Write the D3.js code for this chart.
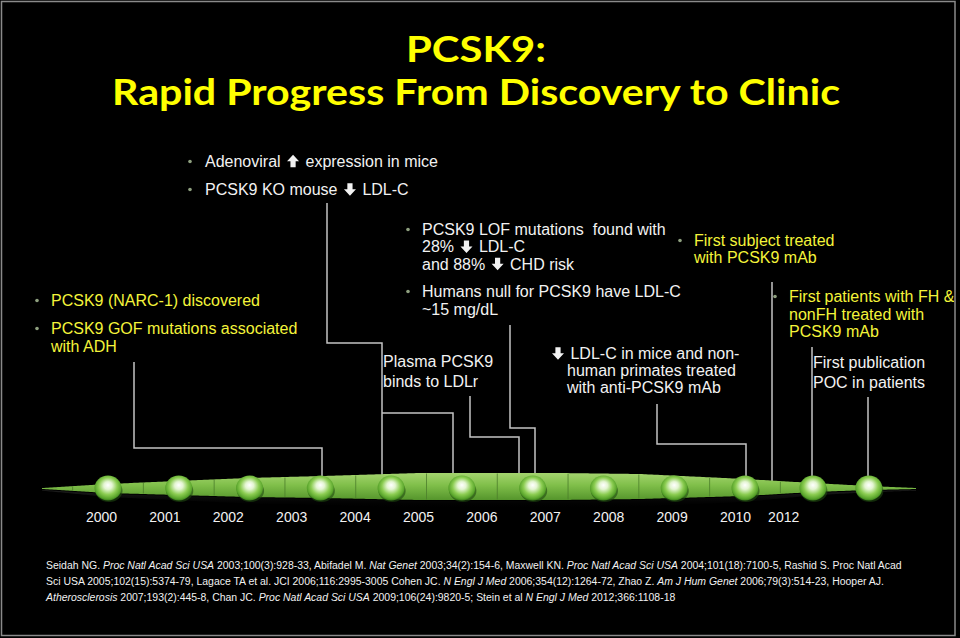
<!DOCTYPE html>
<html><head><meta charset="utf-8">
<script src="https://cdn.jsdelivr.net/npm/d3@7"></script>
<style>html,body{margin:0;padding:0;background:#000;} svg{display:block}</style>
</head><body>
<svg id="chart" width="960" height="638"></svg>
<script>
// ---------- data ----------
const titleLines = ["PCSK9:", "Rapid Progress From Discovery to Clinic"];
const yearLabels = ["2000","2001","2002","2003","2004","2005","2006","2007","2008","2009","2010","2012"];
const yearSlots  = [0,1,2,3,4,5,6,7,8,9,10,10.76];
const markerSlots = [0,1,2,3,4,5,6,7,8,9,9.96,10.75];
const dividerSlots = [-0.5,0.5,1.5,2.5,3.5,4.5,5.5,6.5,7.5,8.5,9.5];

const noteText = {
  adenoviral:    ["Adenoviral ⬆ expression in mice"],
  koMouse:       ["PCSK9 KO mouse ⬇ LDL-C"],
  narc:          ["PCSK9 (NARC-1) discovered"],
  gof:           ["PCSK9 GOF mutations associated", "with ADH"],
  lof:           ["PCSK9 LOF mutations  found with", "28% ⬇ LDL-C", "and 88% ⬇ CHD risk"],
  humans:        ["Humans null for PCSK9 have LDL-C", "~15 mg/dL"],
  plasma:        ["Plasma PCSK9", "binds to LDLr"],
  mice:          ["⬇ LDL-C in mice and non-", "human primates treated", "with anti-PCSK9 mAb"],
  firstSubject:  ["First subject treated", "with PCSK9 mAb"],
  firstPatients: ["First patients with FH &", "nonFH treated with", "PCSK9 mAb"],
  publication:   ["First publication", "POC in patients"]
};

const references = [
  [["Seidah NG. ",0],["Proc Natl Acad Sci USA",1],[" 2003;100(3):928-33, Abifadel M. ",0],["Nat Genet",1],[" 2003;34(2):154-6, Maxwell KN. ",0],["Proc Natl Acad Sci USA",1],[" 2004;101(18):7100-5, Rashid S. Proc Natl Acad",0]],
  [["Sci USA 2005;102(15):5374-79, Lagace TA et al. JCI 2006;116:2995-3005 Cohen JC. ",0],["N Engl J Med",1],[" 2006;354(12):1264-72, Zhao Z. ",0],["Am J Hum Genet",1],[" 2006;79(3):514-23, Hooper AJ.",0]],
  [["Atherosclerosis",1],[" 2007;193(2):445-8, Chan JC. ",0],["Proc Natl Acad Sci USA",1],[" 2009;106(24):9820-5; Stein et al ",0],["N Engl J Med",1],[" 2012;366:1108-18",0]]
];

// ---------- layout ----------
const W = 960, H = 638;
const WHITE = "#f2f2f2", YELLOW = "#f4f43a", BULLET = "#8fa07f", LINE = "#c4c4c4";
const svg = d3.select("#chart");
const defs = svg.append("defs");

svg.append("rect").attr("width", W).attr("height", H).attr("fill", "#000");
defs.append("clipPath").attr("id", "frame").append("rect")
  .attr("x", 2).attr("y", 2).attr("width", 952).attr("height", 633);
const g = svg.append("g").attr("clip-path", "url(#frame)");

// gradients
const barGrad = defs.append("linearGradient").attr("id", "barGrad")
  .attr("x1", 0).attr("y1", 0).attr("x2", 0).attr("y2", 1);
[["0%", "#a4d46e"], ["45%", "#80bf4a"], ["100%", "#55952c"]].forEach(([o, c]) =>
  barGrad.append("stop").attr("offset", o).attr("stop-color", c));
const ballGrad = defs.append("radialGradient").attr("id", "ballGrad")
  .attr("cx", "50%").attr("cy", "45%").attr("r", "55%").attr("fx", "50%").attr("fy", "38%");
[["0%", "#ffffff"], ["28%", "#e4f5d2"], ["62%", "#8ccd52"], ["88%", "#5aa52c"], ["100%", "#3a7d1a"]].forEach(([o, c]) =>
  ballGrad.append("stop").attr("offset", o).attr("stop-color", c));
const reflGrad = defs.append("linearGradient").attr("id", "reflGrad")
  .attr("x1", 0).attr("y1", 0).attr("x2", 0).attr("y2", 1);
[["0%", "#666", 0.3], ["100%", "#000", 0]].forEach(([o, c, op]) =>
  reflGrad.append("stop").attr("offset", o).attr("stop-color", c).attr("stop-opacity", op));

// title
const titleSizes = [{y: 62, len: 140}, {y: 105, len: 728}];
g.selectAll("text.title").data(titleLines).join("text")
  .attr("class", "title")
  .attr("x", 476).attr("y", (d, i) => titleSizes[i].y)
  .attr("text-anchor", "middle")
  .attr("textLength", (d, i) => titleSizes[i].len)
  .attr("lengthAdjust", "spacingAndGlyphs")
  .attr("fill", "#ffff00")
  .style("font-family", "'Comic Sans MS', 'Lato', 'Open Sans', sans-serif")
  .style("font-weight", "bold")
  .style("font-size", "36px")
  .text(d => d);

// scales
const markerX = d3.scaleLinear().domain([0, 9]).range([108, 745]);
const yearX = d3.scaleLinear().domain([0, 10]).range([101, 735]);
const barY = 488;

// connectors
const connectors = [
  [[134,362],[134,448],[322,448],[322,476]],
  [[327,203],[327,343],[382,343],[382,476]],
  [[382,413],[453,413],[453,476]],
  [[470,396],[470,437],[519,437],[519,478]],
  [[510,325],[510,428],[535,428],[535,476]],
  [[657,404],[657,444],[746,444],[746,476]],
  [[772,282],[772,482]],
  [[812,347],[812,476]],
  [[868,397],[868,476]]
];
const lineGen = d3.line();
g.selectAll("path.conn").data(connectors).join("path")
  .attr("class", "conn").attr("d", lineGen)
  .attr("fill", "none").attr("stroke", LINE).attr("stroke-width", 1.5);

// timeline bar (tapered, piecewise profile)
const profX   = [42, 108, 177, 248, 322, 420, 560, 640, 745, 813, 869, 917];
const profTop = [488, 484, 481, 478, 476, 473, 473, 474, 479, 483, 486, 488];
const profBot = [489, 493, 495, 497, 498, 500, 500, 499, 496, 492, 490, 489];
const topAt = d3.scaleLinear().domain(profX).range(profTop);
const botAt = d3.scaleLinear().domain(profX).range(profBot);
const samples = d3.range(42, 918, 2);
g.append("path")
  .attr("d", d3.area().x(d => d).y0(d => botAt(d) + 1).y1(d => botAt(d) + 1 + (botAt(d) - barY) * 0.6)(samples))
  .attr("fill", "url(#reflGrad)");
g.append("path").attr("d", d3.area().x(d => d).y0(d => botAt(d)).y1(d => topAt(d))(samples))
  .attr("fill", "url(#barGrad)");
g.selectAll("line.div").data(dividerSlots).join("line")
  .attr("class", "div")
  .attr("x1", d => markerX(d)).attr("x2", d => markerX(d))
  .attr("y1", d => topAt(markerX(d)) + 0.5).attr("y2", d => botAt(markerX(d)) - 0.5)
  .attr("stroke", "#4d7f2c").attr("stroke-width", 1).attr("opacity", 0.8);

// balls
const balls = g.selectAll("g.ball").data(markerSlots).join("g")
  .attr("class", "ball").attr("transform", d => `translate(${markerX(d)},${barY})`);
balls.append("ellipse").attr("cx", 1).attr("cy", 3).attr("rx", 13.5).attr("ry", 11)
  .attr("fill", "#1f4a10").attr("opacity", 0.6);
balls.append("ellipse").attr("rx", 13.5).attr("ry", 12.5).attr("fill", "url(#ballGrad)");

// year axis
const axis = d3.axisBottom(yearX).tickValues(yearSlots)
  .tickFormat((d, i) => yearLabels[i]).tickSize(0).tickPadding(0);
const ax = g.append("g").attr("transform", "translate(0,512)").call(axis);
ax.select(".domain").remove();
ax.selectAll("text").attr("fill", WHITE)
  .style("font-family", "Arial, 'Liberation Sans', sans-serif").style("font-size", "14px");

// notes
const noteLayout = {
  adenoviral:    {x: 205, y: 167, lh: 18,   bx: 190, c: WHITE},
  koMouse:       {x: 205, y: 195, lh: 18,   bx: 190, c: WHITE},
  narc:          {x: 51,  y: 306, lh: 18,   bx: 37,  c: YELLOW},
  gof:           {x: 51,  y: 334, lh: 18,   bx: 37,  c: YELLOW},
  lof:           {x: 422, y: 235, lh: 17.3, bx: 408, c: WHITE},
  humans:        {x: 422, y: 297, lh: 17.5, bx: 408, c: WHITE},
  plasma:        {x: 383, y: 367, lh: 19.5, bx: null, c: WHITE},
  mice:          {x: 567, y: 359, lh: 17,   bx: null, c: WHITE, firstX: 550},
  firstSubject:  {x: 694, y: 246, lh: 17,   bx: 680, c: YELLOW},
  firstPatients: {x: 789, y: 302, lh: 17.5, bx: 775, c: YELLOW},
  publication:   {x: 813, y: 368, lh: 19.5, bx: null, c: WHITE}
};
const ARW = 16;
const arrowPath = up => up
  ? "M0,-6.5 L6,0 L2.6,0 L2.6,6 L-2.6,6 L-2.6,0 L-6,0 Z"
  : "M0,6.5 L6,0 L2.6,0 L2.6,-6 L-2.6,-6 L-2.6,0 L-6,0 Z";
Object.keys(noteText).forEach(key => {
  const L = noteLayout[key];
  const grp = g.append("g").attr("class", "note");
  if (L.bx !== null) {
    grp.append("circle").attr("cx", L.bx).attr("cy", L.y - 5.5).attr("r", 1.8).attr("fill", BULLET);
  }
  noteText[key].forEach((line, i) => {
    const x0 = (i === 0 && L.firstX) ? L.firstX : L.x;
    const y0 = L.y + i * L.lh;
    const t = grp.append("text")
      .attr("x", x0).attr("y", y0)
      .attr("fill", L.c)
      .style("font-family", "Arial, 'Liberation Sans', sans-serif")
      .style("font-size", "16px")
      .style("white-space", "pre");
    let cx = 0, pending = 0;
    line.split(/([⬆⬇])/).filter(s => s.length).forEach(seg => {
      if (seg === "⬆" || seg === "⬇") {
        grp.append("path").attr("d", arrowPath(seg === "⬆"))
          .attr("transform", `translate(${x0 + cx + ARW / 2},${y0 - 5.8})`)
          .attr("fill", WHITE);
        cx += ARW; pending += ARW;
      } else {
        const sp = t.append("tspan").text(seg);
        if (pending) { sp.attr("dx", pending); pending = 0; }
        cx += sp.node().getComputedTextLength();
      }
    });
  });
});

// references
const refY = [569, 585, 601];
references.forEach((segs, i) => {
  const t = g.append("text").attr("transform", `translate(46,${refY[i]}) scale(0.952,1)`)
    .attr("fill", WHITE)
    .style("font-family", "'Liberation Sans Narrow', 'Arial Narrow', Arial, sans-serif")
    .style("font-size", "11px").style("white-space", "pre");
  segs.forEach(([s, it]) => {
    t.append("tspan").text(s).style("font-style", it ? "italic" : "normal");
  });
});

// frame
svg.append("rect").attr("x", 1.5).attr("y", 1.5).attr("width", 953.5).attr("height", 634)
  .attr("fill", "none").attr("stroke", "#8a8a8a").attr("stroke-width", 1.5);
</script>
</body></html>
